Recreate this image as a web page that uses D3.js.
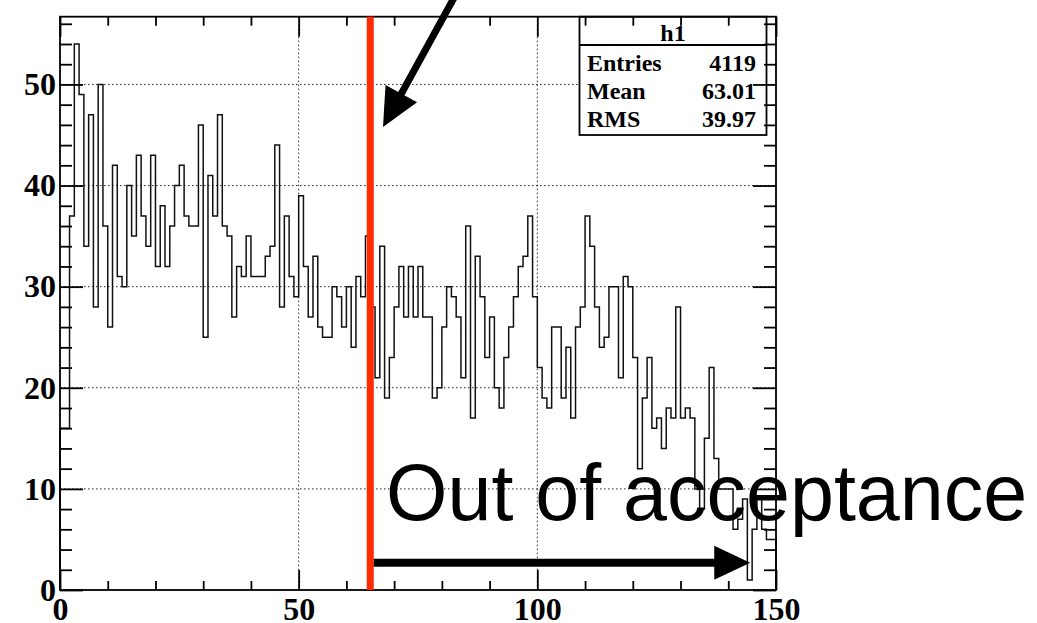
<!DOCTYPE html>
<html><head><meta charset="utf-8">
<script src="https://cdn.jsdelivr.net/npm/d3@7"></script>
<style>html,body{margin:0;padding:0;background:#fff;} svg{display:block;}</style>
</head><body>
<svg id="c" width="1037" height="623"></svg>
<script>
// ---- data ----
const counts = [
  16,16,37,54,49,34,47,28,50,36,
  26,42,31,30,40,35,43,37,34,43,
  32,38,32,36,40,42,37,36,36,46,
  25,41,37,47,36,35,27,32,31,35,
  31,31,31,33,34,44,28,37,31,29,
  39,32,27,33,26,25,25,30,29,26,
  30,24,31,29,35,28,21,34,19,23,
  28,32,27,32,27,32,27,27,19,20,
  26,30,29,27,21,36,17,33,29,23,
  27,20,18,23,26,29,32,33,37,29,
  22,19,18,26,26,19,24,17,26,28,
  37,34,28,24,25,30,30,21,31,30,
  23,12,19,23,16,17,14,18,17,28,
  17,18,17,10,8,15,22,13,10,10,
  10,6,7,9,1,6,9,6,5,5
];
const xMin = 0, xMax = 150;
const xMajorTicks = [0, 50, 100, 150];
const xMinorTicks = [10,20,30,40,60,70,80,90,110,120,130,140];
const yMajorTicks = [0, 10, 20, 30, 40, 50];
const yMinorTicks = [2,4,6,8,12,14,16,18,22,24,26,28,32,34,36,38,42,44,46,48,52,54,56];
const histTitle = "h1";
const statNames = ["Entries", "Mean", "RMS"];
const statValues = ["4119", "63.01", "39.97"];
const cutValue = 65;
const arrowEndValue = 144.6;
const arrowLevel = 2.7;
const outText = "Out of acceptance";

// ---- layout ----
const W = 1037, H = 623;
const m = {left: 60, right: 776, top: 16.7, bottom: 590};
const yMax = d3.max(counts) * 1.05;
const x = d3.scaleLinear().domain([xMin, xMax]).range([m.left, m.right]);
const y = d3.scaleLinear().domain([0, yMax]).range([m.bottom, m.top]);
const svg = d3.select("#c");
svg.append("rect").attr("width", W).attr("height", H).attr("fill", "#fff");

// grid
const gridG = svg.append("g").attr("stroke", "#222").attr("stroke-width", 1).attr("stroke-dasharray", "1.5,2.5");
gridG.append("g").selectAll("line").data(xMajorTicks.filter(d => d > xMin && d < xMax)).join("line")
  .attr("x1", d => x(d)).attr("x2", d => x(d)).attr("y1", m.top).attr("y2", m.bottom);
gridG.append("g").selectAll("line").data(yMajorTicks.filter(d => d > 0)).join("line")
  .attr("x1", m.left).attr("x2", m.right).attr("y1", d => y(d)).attr("y2", d => y(d));

// histogram
const pts = [[x(0), y(0)]];
counts.forEach((c, i) => { pts.push([x(i), y(c)]); pts.push([x(i + 1), y(c)]); });
pts.push([x(counts.length), y(0)]);
svg.append("path").attr("d", d3.line()(pts)).attr("fill", "none")
  .attr("stroke", "#111").attr("stroke-width", 1.5).attr("stroke-linejoin", "miter");

// stats box
const bx0 = 579.5, bx1 = 766.5, by0 = m.top, by1 = 135, bsep = 45;
svg.append("rect").attr("x", bx0).attr("y", by0).attr("width", bx1 - bx0).attr("height", by1 - by0)
  .attr("fill", "#fff").attr("stroke", "#000").attr("stroke-width", 1.8);
svg.append("line").attr("x1", bx0).attr("x2", bx1).attr("y1", bsep).attr("y2", bsep)
  .attr("stroke", "#000").attr("stroke-width", 1.8);
const sfont = "'Liberation Serif','Times New Roman',serif";
svg.append("text").attr("x", (bx0 + bx1) / 2).attr("y", 40.5).attr("text-anchor", "middle")
  .attr("font-family", sfont).attr("font-weight", "bold").attr("font-size", 24).text(histTitle);
statNames.forEach((n, i) => {
  const by = 70.5 + i * 28.3;
  svg.append("text").attr("x", 587).attr("y", by).attr("font-family", sfont)
    .attr("font-weight", "bold").attr("font-size", 24).text(n);
  svg.append("text").attr("x", 756).attr("y", by).attr("text-anchor", "end").attr("font-family", sfont)
    .attr("font-weight", "bold").attr("font-size", 24).text(statValues[i]);
});

// axes (ticks inside, on all sides)
function styleAxis(g) {
  g.select(".domain").remove();
  g.selectAll(".tick line").attr("stroke", "#000").attr("stroke-width", 1.8);
  g.selectAll("text").attr("font-family", sfont).attr("font-weight", "bold")
    .attr("font-size", 32).attr("fill", "#000");
}
svg.append("g").attr("transform", `translate(0,${m.bottom})`)
  .call(d3.axisBottom(x).tickValues(xMinorTicks).tickSize(-9).tickFormat("")).call(styleAxis);
svg.append("g").attr("transform", `translate(0,${m.bottom})`)
  .call(d3.axisBottom(x).tickValues(xMajorTicks).tickSize(-20).tickPadding(7).tickFormat(d3.format("d"))).call(styleAxis);
svg.append("g").attr("transform", `translate(0,${m.top})`)
  .call(d3.axisTop(x).tickValues(xMinorTicks).tickSize(-9).tickFormat("")).call(styleAxis);
svg.append("g").attr("transform", `translate(0,${m.top})`)
  .call(d3.axisTop(x).tickValues(xMajorTicks).tickSize(-20).tickFormat("")).call(styleAxis);
svg.append("g").attr("transform", `translate(${m.left},0)`)
  .call(d3.axisLeft(y).tickValues(yMinorTicks).tickSize(-12).tickFormat("")).call(styleAxis);
svg.append("g").attr("transform", `translate(${m.left},0)`)
  .call(d3.axisLeft(y).tickValues(yMajorTicks).tickSize(-23).tickPadding(4).tickFormat(d3.format("d"))).call(styleAxis);
svg.append("g").attr("transform", `translate(${m.right},0)`)
  .call(d3.axisRight(y).tickValues(yMinorTicks).tickSize(-12).tickFormat("")).call(styleAxis);
svg.append("g").attr("transform", `translate(${m.right},0)`)
  .call(d3.axisRight(y).tickValues(yMajorTicks).tickSize(-23).tickFormat("")).call(styleAxis);

// frame
svg.append("rect").attr("x", m.left).attr("y", m.top).attr("width", m.right - m.left).attr("height", m.bottom - m.top)
  .attr("fill", "none").attr("stroke", "#000").attr("stroke-width", 1.8);

// red cut line
svg.append("line").attr("x1", x(cutValue)).attr("x2", x(cutValue)).attr("y1", m.top).attr("y2", m.bottom)
  .attr("stroke", "#ff2a00").attr("stroke-width", 7);

// bottom arrow
const ax0 = x(cutValue) + 3.5, ax1 = x(arrowEndValue), ay = y(arrowLevel);
svg.append("line").attr("x1", ax0).attr("x2", ax1 - 30).attr("y1", ay).attr("y2", ay)
  .attr("stroke", "#000").attr("stroke-width", 8);
svg.append("path").attr("d", `M${ax1},${ay} L${ax1 - 36},${ay - 17} L${ax1 - 36},${ay + 17} Z`).attr("fill", "#000");

// top arrow
const tip = [383, 127], tail = [455, -4];
const len = Math.hypot(tail[0] - tip[0], tail[1] - tip[1]);
const ux = (tail[0] - tip[0]) / len, uy = (tail[1] - tip[1]) / len;
const hl = 38, hw = 18;
const bxm = tip[0] + ux * hl, bym = tip[1] + uy * hl;
svg.append("line").attr("x1", tail[0]).attr("y1", tail[1]).attr("x2", tip[0] + ux * (hl - 4)).attr("y2", tip[1] + uy * (hl - 4))
  .attr("stroke", "#000").attr("stroke-width", 7);
svg.append("path").attr("d", `M${tip[0]},${tip[1]} L${bxm - uy * hw},${bym + ux * hw} L${bxm + uy * hw},${bym - ux * hw} Z`).attr("fill", "#000");

// annotation text
svg.append("text").attr("x", 386).attr("y", 520)
  .attr("font-family", "'Liberation Sans',Arial,Helvetica,sans-serif").attr("font-size", 79)
  .attr("fill", "#000").text(outText);
</script>
</body></html>
